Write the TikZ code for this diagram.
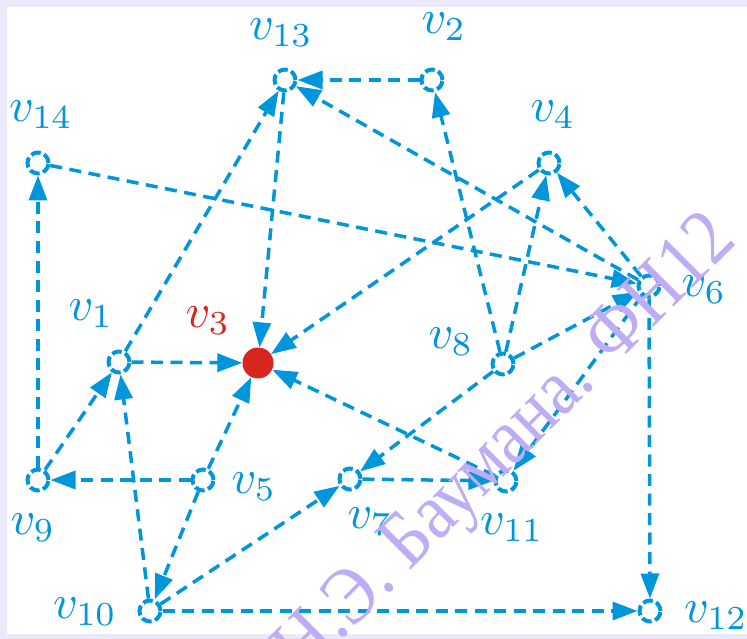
\documentclass[tikz,border=0pt]{standalone}
\usepackage{fontspec}
\newfontfamily\wmfont{Liberation Serif}
\usetikzlibrary{arrows.meta}
\definecolor{vblue}{RGB}{0,150,220}
\definecolor{vred}{RGB}{215,38,30}
\definecolor{wmcol}{RGB}{190,172,245}
\definecolor{framecol}{RGB}{234,234,248}
\newcommand{\vlab}[1]{\scalebox{4.8}{$v_{#1}$}}
\begin{document}
\begin{tikzpicture}[x=1pt,y=-1pt,
  vtx/.style={circle,draw=vblue,line width=4pt,dash pattern=on 10pt off 3.6pt,minimum size=21pt,inner sep=0pt},
  redv/.style={circle,fill=vred,minimum size=31pt,inner sep=0pt},
  lab/.style={text=vblue,inner sep=0pt},
  edge/.style={draw=vblue,line width=3.5pt,dash pattern=on 12pt off 7.5pt,-{Triangle[length=25pt,width=18pt]}}]
\useasboundingbox (0,0) rectangle (747,639);
\fill[framecol] (0,0) rectangle (747,639);
\fill[white] (7,7) rectangle (747,634);
% vertices
\node[vtx] (v13) at (285,80) {};
\node[vtx] (v2) at (432,80) {};
\node[vtx] (v14) at (38,163) {};
\node[vtx] (v4) at (549,163) {};
\node[vtx] (v6) at (649,286) {};
\node[vtx] (v1) at (119,362) {};
\node[redv] (v3) at (258,363) {};
\node[vtx] (v8) at (503,364) {};
\node[vtx] (v9) at (38,480) {};
\node[vtx] (v5) at (203,480) {};
\node[vtx] (v7) at (350,479) {};
\node[vtx] (v11) at (506,481) {};
\node[vtx] (v10) at (150,611) {};
\node[vtx] (v12) at (650,611) {};
% labels
\node[lab] (l13) at (281,33) {\vlab{13}};
\node[lab] (l2) at (444,27) {\vlab{2}};
\node[lab] (l14) at (41,115) {\vlab{14}};
\node[lab] (l4) at (553,115) {\vlab{4}};
\node[lab] (l6) at (704,290) {\vlab{6}};
\node[lab] (l1) at (91,314) {\vlab{1}};
\node[lab,text=vred] (l3) at (208,321) {\vlab{3}};
\node[lab] (l8) at (451,342) {\vlab{8}};
\node[lab] (l9) at (33,528) {\vlab{9}};
\node[lab] (l5) at (254,487) {\vlab{5}};
\node[lab] (l7) at (370,522) {\vlab{7}};
\node[lab] (l11) at (512,528) {\vlab{11}};
\node[lab] (l10) at (85,612) {\vlab{10}};
\node[lab] (l12) at (716,616) {\vlab{12}};
% edges
\draw[edge] (v2) -- (v13);
\draw[edge] (v6) -- (v13);
\draw[edge] (v1) -- (v13);
\draw[edge] (v13) -- (v3);
\draw[edge] (v14) -- (v6);
\draw[edge] (v9) -- (v14);
\draw[edge] (v8) -- (v2);
\draw[edge] (v8) -- (v4);
\draw[edge] (v6) -- (v4);
\draw[edge] (v4) -- (v3);
\draw[edge] (v1) -- (v3);
\draw[edge] (v5) -- (v3);
\draw[edge] (v11) -- (v3);
\draw[edge] (v9) -- (v1);
\draw[edge] (v10) -- (v1);
\draw[edge] (v5) -- (v10);
\draw[edge] (v5) -- (v9);
\draw[edge] (v10) -- (v7);
\draw[edge] (v10) -- (v12);
\draw[edge] (v6) -- (v12);
\draw[edge] (v7) -- (v11);
\draw[edge] (v8) -- (v7);
\draw[edge] (v8) -- (v6);
\draw[edge] (v6) -- (v11);
% watermark
\begin{scope}
\clip (0,0) rectangle (747,639);
\node[text=wmcol,font=\wmfont\fontsize{80}{84}\selectfont,rotate=45,anchor=east,inner sep=0pt] (wm) at (726,230) {\scalebox{0.88}[1]{МГТУ им. Н.Э. Баумана. ФН12}};
\end{scope}
\end{tikzpicture}
\end{document}
